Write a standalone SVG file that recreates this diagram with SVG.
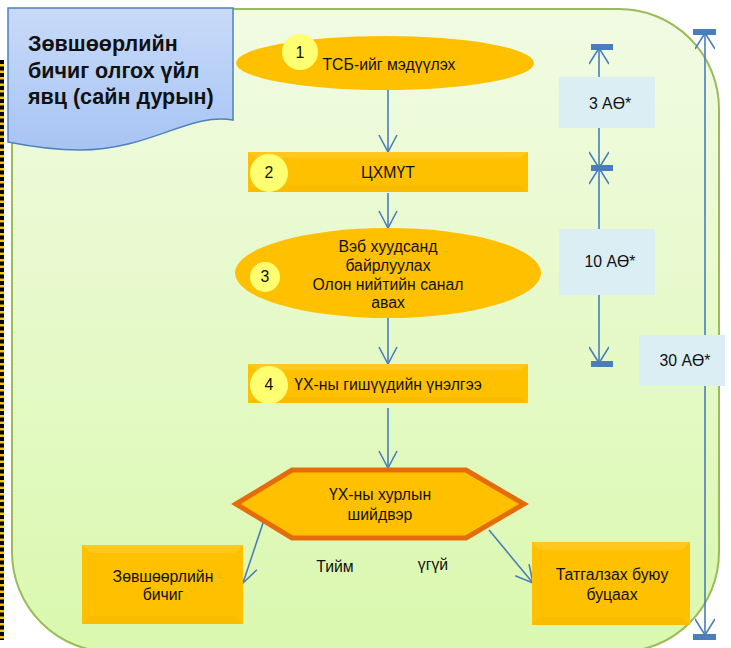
<svg xmlns="http://www.w3.org/2000/svg" width="731" height="648" viewBox="0 0 731 648">
<defs>
<linearGradient id="bg" x1="0" y1="0" x2="0" y2="1">
<stop offset="0" stop-color="#F1FBE3"/>
<stop offset="1" stop-color="#DAF8AE"/>
</linearGradient>
<linearGradient id="blue" x1="0" y1="0" x2="0" y2="1">
<stop offset="0" stop-color="#C8DAF8"/>
<stop offset="1" stop-color="#A8C4F4"/>
</linearGradient>
<marker id="ah" viewBox="0 0 20 20" refX="19" refY="10" markerWidth="20" markerHeight="20" markerUnits="userSpaceOnUse" orient="auto">
<path d="M2,1 L19,10 L2,19" fill="none" stroke="#4A7EBB" stroke-width="1.6"/>
</marker>
<marker id="ahs" viewBox="0 0 20 20" refX="19" refY="10" markerWidth="20" markerHeight="20" markerUnits="userSpaceOnUse" orient="auto">
<path d="M3,0 L19,10 L3,20" fill="none" stroke="#4A7EBB" stroke-width="1.6"/>
</marker>
</defs>
<style>
text{font-family:"Liberation Sans",Arial,sans-serif;fill:#111;}
.t{font-size:15.8px;text-anchor:middle;}
.title{font-size:21.5px;font-weight:bold;fill:#111;}
.gold{fill:#FFC000;}
.bevT{fill:#FFC81F;}
.bevB{fill:#F9BC00;}
.num{fill:#FFFF72;}
.conn{stroke:#4A7EBB;stroke-width:1.6;fill:none;}
.bar{fill:#4A7EBB;}
.dim{fill:#DBEEF4;}
</style>
<rect x="12" y="9" width="707" height="643" rx="100" ry="100" fill="url(#bg)" stroke="#9BBB59" stroke-width="2"/>
<line x1="2" y1="60" x2="2" y2="640" stroke="#FFC000" stroke-width="4"/>
<line x1="2" y1="60" x2="2" y2="640" stroke="#000" stroke-width="4" stroke-dasharray="4 2.5"/>
<g id="title">
<path d="M8,8 H233 V120 C190,112 150,150 80,150 C50,150 28,146 8,142 Z" fill="url(#blue)" stroke="#4F81BD" stroke-width="1.5"/>
<text class="title" x="28" y="51">Зөвшөөрлийн</text>
<text class="title" x="28" y="78">бичиг олгох үйл</text>
<text class="title" x="28" y="104">явц (сайн дурын)</text>
</g>
<g id="connectors">
<line class="conn" x1="388" y1="90" x2="388" y2="152" marker-end="url(#ah)"/>
<line class="conn" x1="388" y1="193" x2="388" y2="228" marker-end="url(#ah)"/>
<line class="conn" x1="388" y1="318" x2="388" y2="364" marker-end="url(#ah)"/>
<line class="conn" x1="388" y1="408" x2="388" y2="468" marker-end="url(#ah)"/>
<line class="conn" x1="265" y1="517" x2="243" y2="583" marker-end="url(#ah)"/>
<line class="conn" x1="489" y1="530" x2="533" y2="583" marker-end="url(#ah)"/>
<line class="conn" x1="599" y1="77" x2="599" y2="48" marker-end="url(#ahs)"/>
<line class="conn" x1="599" y1="128" x2="599" y2="168" marker-end="url(#ahs)"/>
<line class="conn" x1="599" y1="229" x2="599" y2="168" marker-end="url(#ahs)"/>
<line class="conn" x1="599" y1="295" x2="599" y2="363" marker-end="url(#ahs)"/>
<line class="conn" x1="705" y1="335" x2="705" y2="33" marker-end="url(#ahs)"/>
<line class="conn" x1="705" y1="386" x2="705" y2="635" marker-end="url(#ahs)"/>
<rect class="bar" x="591" y="44" width="22" height="6"/>
<rect class="bar" x="591" y="165" width="22" height="6"/>
<rect class="bar" x="591" y="361" width="22" height="6"/>
<rect class="bar" x="693" y="29" width="23" height="6"/>
<rect class="bar" x="693" y="634" width="23" height="6"/>
</g>
<g id="node1">
<ellipse class="gold" cx="385" cy="63" rx="149" ry="27"/>
<circle class="num" cx="300" cy="52" r="18"/>
<text class="t" x="300" y="58">1</text>
<text class="t" x="389" y="70">ТСБ-ийг мэдүүлэх</text>
</g>
<g id="node2">
<rect class="gold" x="248" y="152" width="280" height="40"/>
<polygon class="bevT" points="248,152 528,152 520,158 256,158"/>
<polygon class="bevB" points="248,192 528,192 520,186 256,186"/>
<circle class="num" cx="269" cy="173" r="19"/>
<text class="t" x="269" y="178">2</text>
<text class="t" x="388" y="178">ЦХМҮТ</text>
</g>
<g id="node3">
<ellipse class="gold" cx="388" cy="273" rx="153" ry="45"/>
<circle class="num" cx="265" cy="277" r="15"/>
<text class="t" x="265" y="282">3</text>
<text class="t" x="388" y="252">Вэб хуудсанд</text>
<text class="t" x="388" y="271">байрлуулах</text>
<text class="t" x="388" y="290">Олон нийтийн санал</text>
<text class="t" x="388" y="308">авах</text>
</g>
<g id="node4">
<rect class="gold" x="248" y="364" width="280" height="39"/>
<polygon class="bevT" points="248,364 528,364 520,370 256,370"/>
<polygon class="bevB" points="248,403 528,403 520,397 256,397"/>
<circle class="num" cx="269" cy="385" r="19"/>
<text class="t" x="269" y="390">4</text>
<text class="t" x="388" y="390">ҮХ-ны гишүүдийн үнэлгээ</text>
</g>
<g id="decision">
<polygon points="236,504 292,470 466,470 524,504 466,538 292,538" fill="#FFC000" stroke="#E46C0A" stroke-width="5" stroke-linejoin="miter"/>
<text class="t" x="380" y="500">ҮХ-ны хурлын</text>
<text class="t" x="380" y="520">шийдвэр</text>
</g>
<g id="yes">
<rect class="gold" x="82" y="545" width="161" height="79"/>
<polygon class="bevT" points="82,545 243,545 235,553 90,553"/>
<polygon class="bevB" points="82,624 243,624 235,616 90,616"/>
<text class="t" x="163" y="582">Зөвшөөрлийн</text>
<text class="t" x="163" y="600">бичиг</text>
</g>
<g id="no">
<rect class="gold" x="532" y="542" width="158" height="83"/>
<polygon class="bevT" points="532,542 690,542 682,550 540,550"/>
<polygon class="bevB" points="532,625 690,625 682,617 540,617"/>
<text class="t" x="612" y="580">Татгалзах буюу</text>
<text class="t" x="612" y="600">буцаах</text>
</g>
<g id="labels">
<text class="t" x="335" y="572">Тийм</text>
<text class="t" x="433" y="570">үгүй</text>
</g>
<g id="dim3">
<rect class="dim" x="559" y="77" width="96" height="51"/>
<text class="t" x="610" y="109">3 АӨ*</text>
</g>
<g id="dim10">
<rect class="dim" x="559" y="229" width="96" height="66"/>
<text class="t" x="610" y="267">10 АӨ*</text>
</g>
<g id="dim30">
<rect class="dim" x="639" y="335" width="86" height="51"/>
<text class="t" x="685" y="366">30 АӨ*</text>
</g>
</svg>
